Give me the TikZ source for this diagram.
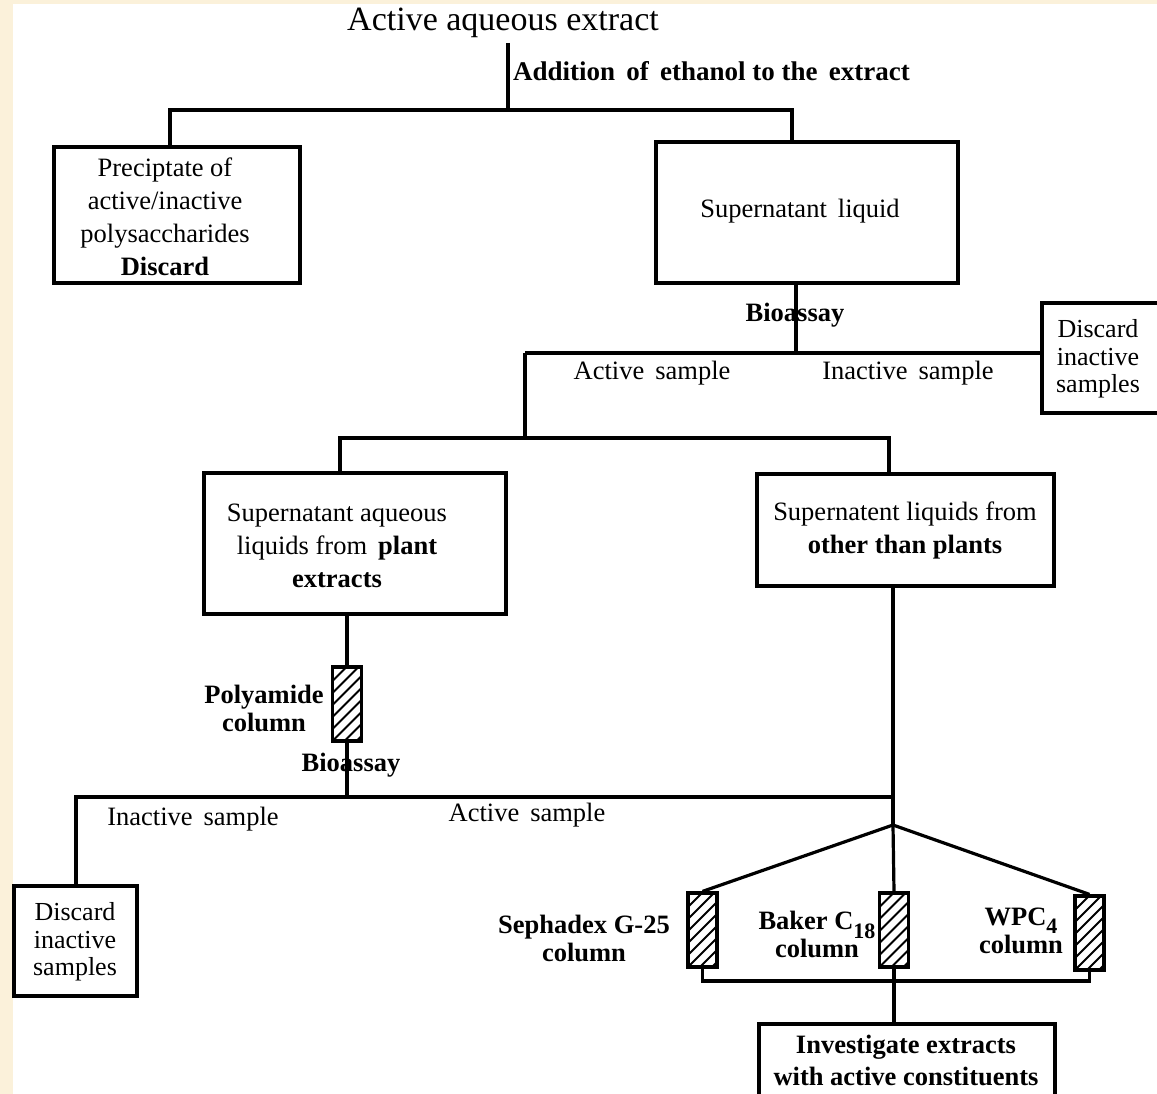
\documentclass[tikz,border=0pt]{standalone}
\usepackage{fontspec}
\setmainfont{Liberation Serif}
\usetikzlibrary{calc}
\definecolor{cream}{RGB}{251,241,218}
\begin{document}
\begin{tikzpicture}[x=1pt,y=-1pt,
  conn/.style={line width=3.2pt},
  box/.style={draw, line width=3.2pt, inner sep=0pt, fill=white},
  txt/.style={inner sep=0pt, align=center, font=\fontsize{26.5}{33}\selectfont},
  txtb/.style={inner sep=0pt, align=center, font=\fontsize{26.5}{28}\selectfont\bfseries},
  colbox/.style={draw, line width=3.2pt, inner sep=0pt, minimum width=29pt, minimum height=74pt,
    path picture={
      \foreach \k in {-96,-84,...,40}{
        \draw[line width=2pt] ($(path picture bounding box.south west)+(\k,0)$) -- ++(100,-100);
      }
    }},
]
% background
\useasboundingbox (0,0) rectangle (1157,1094);
\fill[cream] (0,0) rectangle (1157,1094);
\fill[white] (13,4) rectangle (1157,1094);

% title
\node[inner sep=0pt, font=\fontsize{34}{34}\selectfont] (t) at (503,23) {Active aqueous extract};
\node[txtb, anchor=west, font=\fontsize{27}{28}\selectfont\bfseries] (eth) at (513,71) {Addition\, of\, ethanol to the\, extract};

% boxes
\node[box, minimum width=246pt, minimum height=136pt] (b1) at (177,215) {};
\node[txt] (b1t) at (165,217) {Preciptate of\\active/inactive\\polysaccharides\\\textbf{Discard}};
\node[box, minimum width=302pt, minimum height=141pt] (b2) at (807,212.5) {};
\node[txt] (b2t) at (800,211) {Supernatant\, liquid};
\node[box, minimum width=130pt, minimum height=110pt] (b3) at (1107,358) {};
\node[txt, font=\fontsize{26}{27.5}\selectfont] (b3t) at (1098,359) {Discard\\inactive\\samples};
\node[box, minimum width=302pt, minimum height=141pt] (b4) at (355,543.5) {};
\node[txt] (b4t) at (337,546) {Supernatant aqueous\\liquids from\, \textbf{plant}\\\textbf{extracts}};
\node[box, minimum width=297pt, minimum height=112pt] (b5) at (905.5,530) {};
\node[txt] (b5t) at (905,530) {Supernatent liquids from\\\textbf{other than plants}};
\node[box, minimum width=123pt, minimum height=110pt] (b6) at (75.5,941) {};
\node[txt, font=\fontsize{26}{27.5}\selectfont] (b6t) at (75,942) {Discard\\inactive\\samples};
\node[box, minimum width=296pt, minimum height=96pt] (b7) at (907,1072) {};
\node[txtb, font=\fontsize{26.5}{32}\selectfont\bfseries] (b7t) at (906,1060) {Investigate extracts\\with active constituents};

% columns
\node[colbox] (c1) at (347,704) {};
\node[colbox] (c2) at (702.5,930) {};
\node[colbox] (c3) at (894,930) {};
\node[colbox] (c4) at (1089.5,933) {};

% junction coordinates
\coordinate (j0) at (508,110);
\coordinate (j1) at (170,110);
\coordinate (j2) at (792,110);
\coordinate (j3) at (796,353);
\coordinate (j4) at (525,353);
\coordinate (j5) at (525,438);
\coordinate (j6) at (340,438);
\coordinate (j7) at (889,438);
\coordinate (j8) at (346,797);
\coordinate (j9) at (76,797);
\coordinate (j10) at (893,797);
\coordinate (ap) at (893,825);
\coordinate (j11) at (702.5,981);
\coordinate (j12) at (1089.5,981);

% connectors
\draw[conn] (j0 |- 0,43) -- (j0);
\draw[conn] (b1.north -| j1) -- (j1) -- (j2) -- (b2.north -| j2);
\draw[conn] (b2.south -| j3) -- (j3);
\draw[conn] (j4) -- (j4 -| b3.west);
\draw[conn] (j4) -- (j5);
\draw[conn] (b4.north -| j6) -- (j6) -- (j7) -- (b5.north -| j7);
\draw[conn] (b4.south -| c1) -- (c1.north);
\draw[conn] (c1.south) -- (c1.south |- j8);
\draw[conn] (b6.north -| j9) -- (j9) -- (j10);
\draw[conn] (b5.south -| ap) -- (ap);
\draw[conn] (ap) -- (c2.north);
\draw[conn] (ap) -- (c3.north);
\draw[conn] (ap) -- (c4.north);
\draw[conn] (c2.south) -- (j11) -- (j12) -- (c4.south);
\draw[conn] (c3.south) -- (b7.north -| c3);

% labels
\node[txtb] (bio1) at (795,315) {Bioassay};
\node[txt] (as1) at (652,373) {Active\, sample};
\node[txt] (is1) at (908,373) {Inactive\, sample};
\node[txtb] (poly) at (264,708) {Polyamide\\column};
\node[txtb] (bio2) at (351,765) {Bioassay};
\node[txt] (is2) at (193,819) {Inactive\, sample};
\node[txt] (as2) at (527,815) {Active\, sample};
\node[txtb] (seph) at (584,938) {Sephadex G-25\\column};
\node[txtb] (bak) at (817,934) {Baker C\smash{\raisebox{-9pt}{\fontsize{22}{22}\selectfont 18}}\\column};
\node[txtb] (wpc) at (1021,931) {WPC\smash{\raisebox{-8pt}{\fontsize{22}{22}\selectfont 4}}\\column};
\end{tikzpicture}
\end{document}
